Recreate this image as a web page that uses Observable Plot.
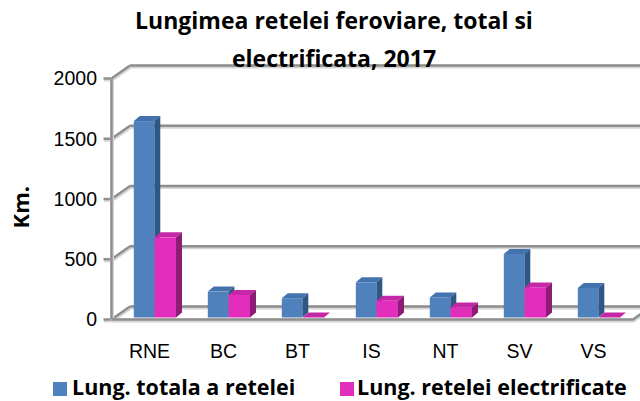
<!DOCTYPE html>
<html>
<head>
<meta charset="utf-8">
<script src="https://cdn.jsdelivr.net/npm/d3@7"></script>
<script src="https://cdn.jsdelivr.net/npm/@observablehq/plot@0.6"></script>
<style>
  body { margin: 0; background: #fff; }
  #wrap { position: relative; width: 640px; height: 401px; overflow: hidden; background: #fff; }
  #chart { position: absolute; left: 0; top: 0; }
  #title { position: absolute; left: 0; top: 1px; width: 668px; text-align: center;
           font-family: "Open Sans", sans-serif; font-weight: bold; font-size: 23px; line-height: 38px; color: #000; }
  .leg { position: absolute; top: 375px; font-family: "Open Sans", sans-serif; font-weight: bold; font-size: 21.5px;
         line-height: 24px; color: #000; white-space: nowrap; }
  .sw { position: absolute; width: 14px; height: 14px; top: 382px; }
</style>
</head>
<body>
<div id="wrap">
  <div id="chart"></div>
  <div id="title"></div>
  <div id="legend"></div>
</div>
<script>
// ---- data ----
const categories = ["RNE", "BC", "BT", "IS", "NT", "SV", "VS"];
const totalKm = [1630, 215, 160, 292, 167, 528, 245];
const electrifiedKm = [665, 187, 0, 139, 83, 250, 0];
const seriesNames = ["Lung. totala a retelei", "Lung. retelei electrificate"];
const yTicks = [0, 500, 1000, 1500, 2000];
const yLabel = "Km.";
const titleLines = ["Lungimea retelei feroviare, total si", "electrificata, 2017"];

// ---- style ----
const colors = {
  total: { front: "#4F81BD", top: "#4372AE", side: "#2F5785" },
  elec:  { front: "#E12EBD", top: "#C528A6", side: "#8C1C74" }
};
const gridGray = "#8E8E8E";
const WALL_DX = 18.5, WALL_DY = -13;   // depth of the chart walls (px)
const BAR_DX = 6, BAR_DY = -5;         // depth of each bar (px)
const BAR_SHIFT = -2;                  // bars sit slightly behind the front plane

const totalRows = categories.map((c, i) => ({ cat: c, v: totalKm[i] }));
const elecRows = categories.map((c, i) => ({ cat: c, v: electrifiedKm[i] }));

// insets within each category band
const INS = { total: [21.8, 31.7], elec: [42.5, 10.0] };

function walls(index, scales, values, dims) {
  const y = scales.y;
  const x0 = dims.marginLeft, x1 = dims.width - dims.marginRight;
  const g = d3.create("svg:g").attr("fill", "none").attr("stroke-linecap", "butt");
  const seg = (pts) => {
    const d = "M" + pts.map(p => p.join(",")).join("L");
    g.append("path").attr("d", d).attr("stroke", "#D6D6D6").attr("stroke-width", 4).attr("transform", "translate(0.5,1)");
    g.append("path").attr("d", d).attr("stroke", gridGray).attr("stroke-width", 2.4);
  };
  for (const t of yTicks) {
    const yy = y(t);
    seg([[x0 + WALL_DX, yy + WALL_DY], [dims.width + 30, yy + WALL_DY]]);
    seg([[x0, yy], [x0 + WALL_DX, yy + WALL_DY]]);
    seg([[x0 - 8, yy], [x0, yy]]);
  }
  seg([[x0, y(yTicks[yTicks.length - 1])], [x0, y(0)]]);
  seg([[x0, y(0)], [x1 + 2, y(0)], [x1 + 2 + WALL_DX, y(0) + WALL_DY]]);
  return g.node();
}

function barFaces(vals, inset, col) {
  return (index, scales, values, dims) => {
    const x = scales.x, y = scales.y;
    const g = d3.create("svg:g");
    categories.forEach((c, i) => {
      const xl = x(c) + inset[0], xr = x(c) + x.bandwidth() - inset[1];
      const yt = y(vals[i]) + BAR_SHIFT, yb = y(0) + BAR_SHIFT;
      g.append("path")
        .attr("d", `M${xl},${yt}L${xr},${yt}L${xr + BAR_DX},${yt + BAR_DY}L${xl + BAR_DX},${yt + BAR_DY}Z`)
        .attr("fill", col.top);
      g.append("path")
        .attr("d", `M${xr},${yt}L${xr + BAR_DX},${yt + BAR_DY}L${xr + BAR_DX},${yb + BAR_DY}L${xr},${yb}Z`)
        .attr("fill", col.side);
    });
    return g.node();
  };
}

const chart = Plot.plot({
  width: 640,
  height: 401,
  marginLeft: 111.5,
  marginRight: 9,
  marginTop: 78.5,
  marginBottom: 81.5,
  style: { fontFamily: "'Liberation Sans Narrow', 'Liberation Sans', sans-serif", fontSize: "19.5px", color: "#000", background: "transparent" },
  x: { type: "band", domain: categories, padding: 0, tickSize: 0, tickPadding: 24, label: null },
  y: { domain: [0, 2000], ticks: yTicks, tickFormat: "d", tickSize: 0, tickPadding: 15, label: null },
  marks: [
    walls,
    barFaces(totalKm, INS.total, colors.total),
    Plot.barY(totalRows, { x: "cat", y: "v", fill: colors.total.front, insetLeft: INS.total[0], insetRight: INS.total[1], dy: BAR_SHIFT }),
    barFaces(electrifiedKm, INS.elec, colors.elec),
    Plot.barY(elecRows, { x: "cat", y: "v", fill: colors.elec.front, insetLeft: INS.elec[0], insetRight: INS.elec[1], dy: BAR_SHIFT }),
    Plot.text([{ t: yLabel, v: 760 }], { text: "t", y: "v", frameAnchor: "left", dx: -90, rotate: -90,
      fontWeight: "bold", fontSize: 22, fontFamily: "'Open Sans', sans-serif" })
  ]
});
document.getElementById("chart").appendChild(chart);

document.getElementById("title").innerHTML = titleLines.join("<br>");

const legend = document.getElementById("legend");
const legItems = [
  { name: seriesNames[0], color: colors.total.front, sx: 53, tx: 72 },
  { name: seriesNames[1], color: colors.elec.front, sx: 340, tx: 357 }
];
for (const it of legItems) {
  const sw = document.createElement("div");
  sw.className = "sw"; sw.style.left = it.sx + "px"; sw.style.background = it.color;
  legend.appendChild(sw);
  const tx = document.createElement("div");
  tx.className = "leg"; tx.style.left = it.tx + "px"; tx.textContent = it.name;
  legend.appendChild(tx);
}
</script>
</body>
</html>
